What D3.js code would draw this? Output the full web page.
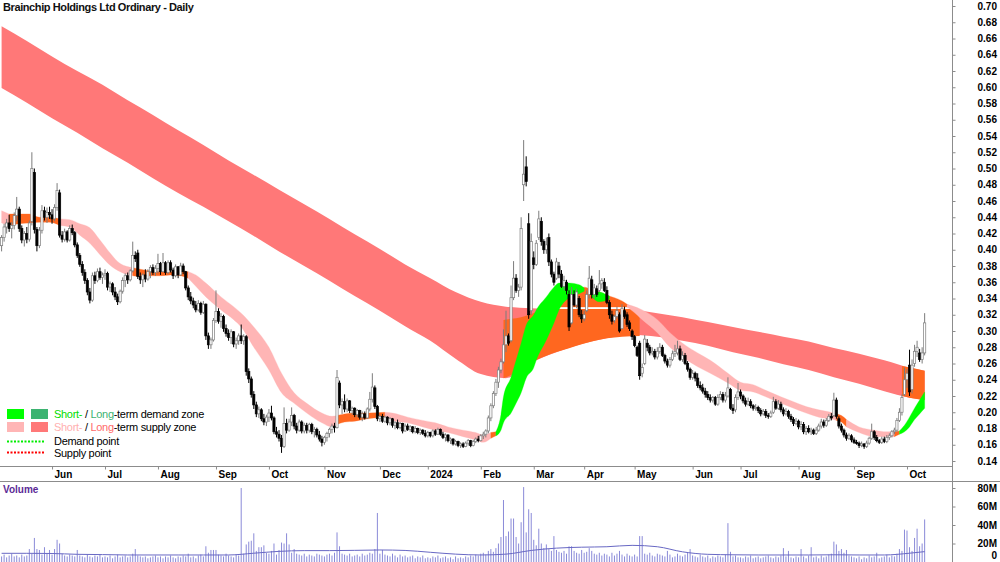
<!DOCTYPE html>
<html>
<head>
<meta charset="utf-8">
<script src="https://cdn.jsdelivr.net/npm/d3@7"></script>
<style>
  html, body { margin: 0; padding: 0; background: #fff; }
  svg { display: block; font-family: Arial, 'Liberation Sans', sans-serif; }
</style>
</head>
<body>
<svg width="1000" height="562"></svg>
<script>
// first trading day shown and ASX holidays (used to build the trading calendar)
const firstDay = new Date(2023, 4, 4)
const holidays = ['2023-06-12', '2023-12-25', '2023-12-26', '2024-01-01', '2024-01-26',
  '2024-03-29', '2024-04-01', '2024-04-25', '2024-06-10']

// daily [open, high, low, close] in cents, one row per trading day
const ohlc = [
  // May 2023
  [40.5,41.8,39.8,41.5],[41.5,43.2,41,42.8],[42.8,43.8,42,43.3],[43.3,44.3,42.2,42.6],[42.6,43.4,41.4,43],[43,44.6,42.5,44.2],[44.2,46.5,43.5,45],[45,45.3,42.2,42.6],[42.6,43,40.8,41.2],[41.2,42.3,40.4,42],[42,42.8,40.8,41.3],[41.3,43.6,41,43.3],[43.5,52,43,50],[49.5,50,42,42.5],[42.5,42.8,39.8,40.5],[40.5,42.8,40.2,42.4],[42.4,45.5,42,44.8],[44.8,45.3,43.6,44],[44,45.2,43.3,44.6],[44.6,45.3,43.8,44.3],
  // Jun
  [44.3,45,43.2,43.8],[43.8,45.6,43.5,45.2],[45.2,48.2,44.8,47.3],[47,47.4,41.5,41.8],[41.8,42.3,40.9,41.3],[41.3,42.6,41,42.2],[42.2,42.4,40.9,41.2],[41.2,43,41,42.6],[42.6,43.1,41.8,42.1],[42.1,42.3,40.3,40.6],[40.6,40.9,39,39.3],[39.3,39.6,37.9,38.2],[38.2,38.6,36.8,37.2],[37.2,37.6,35.8,36.2],[36.2,36.5,34.4,34.8],[34.8,35.3,33.4,33.8],[33.8,37.2,33.6,36.8],[36.8,37.3,35.8,36.2],[36.2,37.7,36,37.3],[37.3,37.8,36.3,36.6],[36.6,37.2,35.8,36.9],
  // Jul
  [36.9,37.6,36.3,37.1],[37.1,37.3,35,35.4],[35.4,36.1,34.8,35.8],[35.8,36,34.4,34.8],[34.8,35.4,33.8,34.2],[34.2,34.6,33.2,33.6],[33.6,35.1,33.4,34.9],[34.9,36.6,34.6,36.2],[36.2,37.1,35.4,36.8],[36.8,37.2,35.8,36.3],[36.3,37.6,36.1,37.4],[37.4,41,37.2,39.3],[39.3,39.8,38.5,38.9],[39.6,40,36.4,36.7],[36.7,37.2,35.8,36.3],[36.3,37.1,35.4,36.9],[36.9,37.6,36,36.4],[36.4,37.6,36.2,37.3],[37.3,38.1,36.5,37.8],[37.8,38.2,36.9,37.2],[37.2,38.1,36.8,37.7],
  // Aug
  [37.7,39.5,37.1,38.3],[38.3,38.5,36.9,37.3],[37.3,39.6,37.2,38.4],[38.4,38.6,36.9,37.2],[37.2,38.7,37,38.4],[38.4,38.7,37.2,37.5],[37.5,37.8,36.4,36.8],[36.8,38.2,36.6,37.9],[37.9,38,36.5,36.9],[36.9,38.4,36.8,38],[38,38.3,37,37.3],[37.3,37.4,35,35.3],[35.3,35.6,33.8,34.2],[34.2,34.8,33.3,33.7],[33.7,34.1,32.8,33.2],[33.2,33.7,32.3,32.6],[32.6,33.8,32.4,33.4],[33.4,33.6,32,32.3],[32.3,33.7,32.1,33.3],[33.3,33.4,28.9,29.4],[29.4,29.8,27.8,28.3],[28.3,29.2,27.8,28.9],[28.9,31.6,28.7,31.3],
  // Sep
  [31.3,35,31,32.4],[32.4,32.8,30.9,31.2],[31.2,32.2,30.4,31.8],[31.8,32,29.9,30.3],[30.3,30.8,29.3,29.7],[29.7,30.2,28.8,29.2],[29.2,30.2,28.4,29.9],[29.9,30,28,28.4],[28.4,29.2,27.8,28.8],[28.8,29.7,28.3,29.4],[29.4,30.8,28.4,28.8],[28.8,29.6,28.3,29.3],[29.3,29.5,24.5,25],[25,25.4,23.6,24.1],[24.1,24.4,21.8,22.2],[22.2,22.6,20.4,20.9],[20.9,21.3,19.4,19.8],[19.8,20.7,19.3,20.3],[20.3,20.5,18.9,19.2],[19.2,19.8,18.4,18.8],[18.8,19.7,18.3,19.4],
  // Oct
  [19.4,20.4,18.8,19.9],[19.9,20.8,19,19.3],[19.3,19.5,17.3,17.6],[17.6,18.2,16.9,17.3],[17.3,17.8,16.4,16.8],[16.8,17.2,15,15.8],[15.8,20.6,15.6,18.6],[18.6,19.2,17.4,17.8],[17.8,19.2,17.6,18.8],[18.8,20.6,18.3,19.6],[19.6,19.8,17.9,18.3],[18.3,18.7,17.4,17.8],[17.8,19.1,17.6,18.8],[18.8,19,17.4,17.7],[17.7,18.7,17.4,18.4],[18.4,18.7,17.4,17.8],[17.8,18.7,17.5,18.5],[18.5,18.7,17.3,17.6],[17.6,18.2,16.9,17.9],[17.9,18.1,16.9,17.2],[17.2,17.7,16.4,16.7],[16.7,17.1,15.8,16.3],
  // Nov
  [16.3,17.1,16,16.9],[16.9,17.6,16.4,17.4],[17.4,18.1,16.9,17.9],[17.9,18.6,17.4,18.3],[18.3,18.7,17.5,18.1],[18.1,25.2,18,24.3],[23.6,23.9,20.5,20.9],[20.9,21.7,19.8,21.3],[21.3,22.2,20,20.4],[20.4,21.7,20,21.4],[21.4,21.5,19.9,20.2],[20.2,20.7,19.7,20.5],[20.5,20.6,19.4,19.7],[19.7,20.4,19.4,20.2],[20.2,20.3,19.1,19.4],[19.4,20.1,18.9,19.8],[19.8,20.1,19.1,19.3],[19.3,20.6,19.2,20.4],[20.4,22.5,20.1,21.6],[21.6,24.8,21.2,23.1],[23,23.3,20.4,20.7],[20.7,20.9,18.9,19.2],
  // Dec
  [19.2,19.7,18.8,19.5],[19.5,19.8,18.7,18.9],[18.9,19.6,18.7,19.4],[19.4,19.5,18.4,18.7],[18.7,19.4,18.4,19.2],[19.2,19.3,18.1,18.4],[18.4,18.9,17.9,18.7],[18.7,19.1,17.9,18.1],[18.1,18.8,17.9,18.6],[18.6,18.7,17.4,17.7],[17.7,18.6,17.6,18.3],[18.3,18.6,17.7,17.9],[17.9,18.4,17.6,18.2],[18.2,18.3,17.4,17.6],[17.6,18.3,17.4,18],[18,18.1,17.3,17.5],[17.5,18,17.2,17.8],[17.8,17.9,17.2,17.4],[17.4,17.8,16.9,17.1],
  // Jan 2024
  [17.1,17.7,16.9,17.5],[17.5,17.6,16.9,17.1],[17.1,17.9,16.9,17.7],[17.7,17.9,17.1,17.3],[17.3,18.1,17.2,17.9],[17.9,18,17.1,17.3],[17.3,17.6,16.7,16.9],[16.9,17.4,16.4,17.2],[17.2,17.3,16.3,16.5],[16.5,16.9,16.1,16.7],[16.7,16.8,15.9,16.1],[16.1,16.6,15.9,16.4],[16.4,16.5,15.7,15.9],[15.9,16.3,15.6,16.1],[16.1,16.3,15.6,15.8],[15.8,16.4,15.7,16.2],[16.2,16.7,15.9,16.5],[16.5,16.6,15.7,15.9],[15.9,16.6,15.8,16.4],[16.4,16.9,16.2,16.7],[16.7,17.1,16.3,16.5],
  // Feb
  [16.5,17.3,16.4,17.1],[17.1,17.6,16.7,17.3],[17.3,17.9,16.9,17.7],[17.7,19.6,17.4,19.3],[19.3,21.1,18.9,20.8],[20.8,22.6,20.5,22.3],[22.3,24.1,22,23.7],[23.7,25.6,23,25.2],[25.2,26.6,24.8,26.2],[26.2,30.2,26,28.3],[28.3,32.5,27.4,29.4],[29.4,29.7,28.2,28.5],[28.8,35.6,28.6,34.1],[34.1,38.6,33.8,36.5],[36.5,37,34.7,35],[35,35.8,34.2,35.4],[35.4,44,35,42.6],[48,53.5,46,49.3],[50.2,51.5,47.8,48.4],[43.2,44.5,31.5,32],[32.5,42,32,41],
  // Mar
  [39,39.8,37.6,38.2],[38.2,41.2,38,40.8],[41.5,44.8,41.2,43.8],[43.5,44,40.5,41],[41,41.3,39.5,40],[40,41.5,39.5,40.6],[41.5,42,38,38.5],[38.5,38.8,36.6,37],[37,37.3,35.6,36],[36.5,39,36.3,38.5],[38,38.5,36.5,37],[37,37.5,35.3,35.5],[35.5,36.8,35,36.2],[36,36.3,34.5,35],[34.5,35,30,30.5],[31,35.4,30.8,34.5],[34.5,35,33,33.2],[33.2,35.2,32.8,34.8],[34,34.3,31.7,32],[32,32.6,31,31.5],
  // Apr
  [31.5,32.5,31.2,32],[32.5,35,32.3,34.5],[34.5,38,34,36.5],[36.3,36.8,34,34.5],[34.5,35.8,34,35.3],[35.2,35.6,34.2,34.5],[35,37.5,34.8,35.8],[35.8,36.5,35.2,36.2],[36,36.5,34.8,35],[35,35.5,33.3,33.5],[33.5,33.8,31.5,32],[32,32.5,30.8,31.2],[31.3,32,31,31.8],[31.8,33,31.5,32.5],[32,32.3,29.8,30],[30.3,33.3,30.2,32.8],[32.5,33,31.5,31.8],[32,32.3,30.5,30.8],[31,31.3,30,30.3],[30,30.2,28.9,29.3],
  // May
  [29.3,29.5,28,28.2],[28,28.2,26.8,27],[28.5,28.8,24,24.5],[24.8,26,24.3,25.5],[26,29.5,25.8,29],[28.5,29,27.5,28],[28,28.3,27,27.3],[27.3,28,27,27.5],[27.5,27.8,26.5,26.8],[26.8,28,26.5,27.5],[27.5,28.5,27.2,28],[28,28.3,26.8,27],[27,27.2,26,26.3],[26.3,26.6,25.5,25.8],[25.8,26.8,25.5,26.5],[26.5,27.6,26.3,27.2],[27.2,28.3,26.8,27.5],[27.3,28.8,27,27.8],[27.8,28.2,26.3,26.5],[26.5,27.5,26.2,27],[27,27.3,25.8,26],[26,26.3,25,25.3],[25.3,25.5,24,24.3],
  // Jun
  [24.3,25.2,24,24.8],[24.8,25,23.8,24.2],[24.2,24.8,23,23.3],[23.3,23.8,22.7,23],[23,23.5,22.3,22.6],[22.6,23,21.8,22.2],[22.2,22.6,21.5,21.8],[21.8,22.2,21.2,21.5],[21.5,22,21.2,21.8],[21.8,22,20.8,21],[21,22.2,20.8,21.8],[21.8,22.6,21.5,22.2],[22.2,22.5,21.2,21.5],[21.5,22.5,21.2,22],[22,24.3,21.8,23],[22.8,23,20.3,20.5],[20.5,21,19.8,20.2],[20.3,22.2,20,21.8],[21.8,23.6,21.5,22.5],
  // Jul
  [22.5,22.8,21.6,22],[22,22.2,21.1,21.4],[21.4,21.8,20.7,21],[21,21.8,20.8,21.3],[21.3,21.6,20.5,20.8],[20.8,21,20.2,20.5],[20.5,21,20.2,20.6],[20.6,20.8,19.9,20.2],[20.2,20.5,19.5,19.8],[19.8,20.4,19.6,20.1],[20.1,20.4,19.3,19.6],[19.6,19.9,19.2,19.5],[19.5,20.2,19.3,19.9],[20,21.9,19.8,21.3],[21.3,21.6,20.3,20.5],[20.5,21.5,20.3,21],[21,21.3,20,20.3],[20.3,20.6,19.5,19.8],[19.8,20.5,19.6,20.1],[20.1,20.3,19.2,19.5],[19.5,19.8,18.8,19.1],[19.1,19.4,18.3,18.6],[18.6,19.3,18.4,18.9],
  // Aug
  [18.9,19.1,17.9,18.2],[18.2,18.9,17.8,18.5],[18.5,18.8,17.3,17.6],[17.6,18.3,17.2,18],[18,18.4,17.4,17.6],[17.6,18.1,17.2,17.8],[17.8,18,17.2,17.4],[17.4,18.2,17.2,17.8],[17.8,18.6,17.6,18.3],[18.3,19.2,18,18.8],[18.8,19.1,18.1,18.4],[18.4,19.3,18.2,19],[19,19.8,18.8,19.5],[19.5,19.9,19,19.3],[19.6,22.4,19.4,21.5],[21.5,21.8,19.2,19.5],[19.2,19.5,18,18.3],[18.3,18.6,17.5,17.8],[17.8,18,16.9,17.2],[17.2,17.5,16.5,16.8],[16.8,17.4,16.6,17.1],[17.1,17.3,16.3,16.6],
  // Sep
  [16.6,16.9,16.1,16.3],[16.3,16.6,16,16.2],[16.2,16.4,15.6,15.9],[15.9,16.4,15.7,16.1],[16.1,16.2,15.5,15.8],[15.8,16.5,15.6,16.2],[16.2,17,16,16.8],[16.8,18.6,16.6,17.6],[17.6,17.8,16.6,16.9],[16.9,17.2,16.3,16.5],[16.5,16.7,16.1,16.3],[16.3,17,16.1,16.7],[16.7,17,16.2,16.4],[16.4,17.2,16.2,16.9],[16.9,17.4,16.6,17.1],[17.1,17.8,16.9,17.6],[17.6,18.1,17.3,17.8],[17.8,19.3,17.6,19],[19,20.5,18.8,20],[20,22.2,19.6,21.8],[22.2,25.5,22,24],
  // Oct
  [24,25.3,23,24.8],[25.8,27.7,22,22.5],[22.8,26.5,22.3,25.8],[26,28.3,25.6,27.5],[27.5,28.8,26.8,28],[27.3,27.8,26.2,26.5],[26.5,28,26,27.3],[27.3,32.2,27,31]
]

// daily volume, millions of shares
const volume = [
  6,8,5,7,9,6,7,5,8,6,7,14,9,26,14,13,8,16,9,13,
  8,14,24,20,9,7,6,8,7,6,13,7,6,5,8,6,5,7,6,8,5,
  6,5,7,4,6,8,5,6,7,5,6,9,14,7,6,5,6,4,5,6,7,
  5,6,4,6,5,7,5,4,6,5,7,6,9,5,6,4,7,8,6,17,10,13,13,
  13,8,7,6,9,7,6,5,8,7,80,9,19,22,23,31,12,16,16,18,10,
  9,12,20,8,13,21,20,31,19,10,14,9,8,7,9,6,8,7,6,9,8,7,
  6,8,9,7,10,32,17,9,8,7,9,6,7,8,6,9,7,8,10,9,14,53,
  9,13,8,7,6,9,7,5,8,6,7,5,6,7,4,6,5,7,4,
  5,4,6,5,7,4,5,6,4,5,3,6,4,5,4,6,5,7,6,8,7,
  9,10,8,12,14,11,15,20,27,67,28,33,47,47,27,20,43,81,32,57,53,
  24,18,36,20,15,19,14,12,28,13,11,10,12,9,17,17,12,10,9,13,
  10,11,15,12,9,8,10,7,9,8,6,10,7,9,12,8,6,9,7,6,
  8,6,28,28,9,8,10,7,6,9,8,7,6,12,8,5,6,9,7,6,8,10,14,
  7,6,5,8,6,5,7,4,6,5,7,6,5,8,42,11,6,7,5,
  5,4,6,5,7,4,5,6,4,5,6,7,5,4,6,5,7,15,6,12,5,4,6,
  5,14,6,4,7,16,5,6,4,7,5,6,8,9,22,19,12,14,10,13,7,6,
  5,4,6,3,5,4,7,5,6,10,4,5,6,8,5,7,6,9,14,12,35,
  34,16,12,26,36,17,20,46
]

// volume moving average, [trading day, millions]
const volumeAvg = [[0,9.4],[10,9.4],[20,9.2],[30,8.3],[40,8.0],[50,7.6],[60,7.6],[70,7.6],[80,7.6],[90,7.6],
  [100,9.5],[110,11.5],[120,12.3],[130,12.3],[140,12.6],[150,13.0],[160,12.5],[170,10.5],[180,8.5],[190,7.6],
  [200,8.5],[210,12.5],[220,15.0],[230,16.0],[240,16.5],[250,18.0],[260,16.5],[270,11.0],[280,8.3],[290,7.8],
  [300,7.6],[310,7.6],[320,7.6],[330,7.8],[340,7.6],[350,7.6],[360,9.5],[366,11.2]]

// long-term zone edges, [trading day, upper, lower] in cents
const longZone = [[0,67.5,59.9],[10,65.7,58.1],[20,63.8,56.2],[30,62.0,54.4],[40,60.3,52.5],[50,58.4,50.7],
  [60,56.6,48.8],[70,54.7,47.0],[80,52.9,45.3],[90,51.0,43.5],[100,49.2,41.7],[110,47.4,39.8],[120,45.6,38.0],
  [130,43.8,36.2],[140,41.9,34.3],[150,40.1,32.5],[160,38.2,30.6],[170,36.5,28.8],[180,34.8,26.6],[190,33.6,24.7],
  [200,33.0,24.2],[210,32.8,26.1],[220,32.7,27.4],[230,32.7,28.4],[240,32.7,29.1],[250,32.6,29.5],[260,32.2,29.3],
  [270,31.7,28.8],[280,31.1,28.2],[290,30.5,27.4],[300,29.9,26.7],[310,29.3,25.9],[320,28.7,25.2],[330,27.9,24.3],
  [340,27.2,23.5],[350,26.4,22.6],[360,25.5,21.8],[366,25.1,21.5]]

// parts of the long-term zone where it turns mixed
const longMixed = [
  [[199,31.35,24.2],[202,31.5,24.6],[206,31.7,25.4],[210,32.1,26.1],[214,32.5,26.7],[218,32.6,27.2],[222,32.7,27.6],[228,32.7,28.2],[234,32.7,28.7],[240,32.7,29.1],[246,32.7,29.3],[253,32.7,29.4]],
  [[357,25.7,22.0],[360,25.5,21.8],[366,25.1,21.5]]
]

// short-term zone pieces, kind + [trading day, upper, lower] in cents
const shortZones = [
  { kind: 'supply', pts: [[0,44.8,43.3],[3,44.4,43.0]] },
  { kind: 'mixed', pts: [[3,44.4,43.0],[7,44.4,43.2],[11,44.4,43.3],[15,44.0,43.4],[19,44.0,43.4],[23,43.8,43.0]] },
  { kind: 'supply', pts: [[23,43.8,43.0],[27,43.7,42.8],[31,43.2,41.8],[35,42.7,40.8],[39,41.2,39.4],[43,39.6,38.1],[47,38.3,37.3],[52,37.8,36.8]] },
  { kind: 'mixed', pts: [[52,37.8,36.8],[55,37.6,36.7],[59,37.4,36.8],[63,37.3,36.8],[67,37.3,36.9],[71,37.3,36.8],[74,37.3,36.5]] },
  { kind: 'supply', pts: [[74,37.3,36.5],[77,36.9,35.5],[81,35.9,34.2],[87,34.2,32.6],[92,33.0,31.4],[95,32.2,30.5],[100,30.5,28.0],[106,28.0,25.2],[111,24.8,22.4],[116,22.4,21.1],[121,21.1,19.9],[127,19.9,18.7],[131,19.5,18.2],[133,19.6,18.5]] },
  { kind: 'mixed', pts: [[133,19.6,18.5],[136,19.8,18.8],[140,19.9,18.9],[145,19.9,19.2],[152,20.0,19.4]] },
  { kind: 'supply', pts: [[152,20.0,19.4],[155,19.9,19.0],[161,19.4,18.7],[167,19.0,18.2],[172,18.7,17.8],[177,18.2,17.5],[183,17.8,17.0],[188,17.5,16.6],[191,17.2,16.3],[194,17.5,16.8]] },
  { kind: 'mixed', pts: [[194,17.5,16.8],[196,17.6,17.1]] },
  { kind: 'mixed', pts: [[219,33.1,32.95],[221,33.7,32.95],[224,34.2,32.95],[227,34.8,32.95],[231,35.4,32.95],[234,35.1,32.95],[237,34.8,32.95],[240,34.4,32.95],[243,34.1,32.95],[246,33.7,32.95],[248,33.3,32.95],[249,33.1,33.0]] },
  { kind: 'demand', pts: [[196,17.6,17.1],[198,19.7,17.8],[199,21.9,18.7],[202,24.3,19.9],[204,26.4,21.1],[206,28.5,22.4],[208,30.7,24.2],[211,32.0,25.5],[212,32.6,26.4],[216,34.2,28.9],[219,35.4,31.0],[221,35.9,32.6],[225,35.9,34.1],[229,35.7,34.6],[231,35.3,34.9]] },
  { kind: 'demand', pts: [[234,34.6,34.2],[237,34.8,33.6],[239,34.6,33.7],[241,34.3,33.9]] },
  { kind: 'supply', pts: [[248,33.3,32.95],[250,33.1,32.5],[254,32.6,31.4],[260,31.4,29.8],[265,29.8,28.0],[270,28.5,26.8],[276,27.3,25.6],[281,26.4,24.8],[288,24.8,23.6],[293,23.7,22.7],[298,23.4,22.5],[303,22.7,21.9],[309,21.9,21.1],[314,21.3,20.5],[319,20.7,19.9],[324,20.3,19.4],[330,19.9,19.1],[331,19.8,19.0]] },
  { kind: 'mixed', pts: [[331,19.8,19.0],[333,19.6,18.8],[335,19.1,18.2]] },
  { kind: 'supply', pts: [[335,19.1,18.2],[340,18.2,17.5],[346,17.8,17.0],[351,17.6,17.0],[354,17.6,17.0]] },
  { kind: 'mixed', pts: [[354,17.6,17.0],[356,17.7,17.3]] },
  { kind: 'demand', pts: [[356,17.7,17.3],[358,18.4,17.6],[360,19.4,18.2],[362,20.5,19.1],[364,21.5,19.8],[366,22.5,20.5]] }
]

const priceTicks = [14,16,18,20,22,24,26,28,30,32,34,36,38,40,42,44,46,48,50,52,54,56,58,60,62,64,66,68,70]
const volumeTicks = [0, 20, 40, 60, 80]

const colors = {
  longSupply: '#ff7878', supply: '#ffb5b5', demand: '#00ff00', mixed: '#ff671f',
  longDemand: '#3cb371', axis: '#8c8c8c', vol: '#8a8ad8', volAvg: '#6868c4'
}

const svg = d3.select('svg')
const step = 2.522

// trading calendar
const fmtDay = d3.timeFormat('%Y-%m-%d')
const days = []
for (let d = new Date(firstDay); days.length < ohlc.length; d.setDate(d.getDate() + 1)) {
  const wd = d.getDay()
  if (wd > 0 && wd < 6 && !holidays.includes(fmtDay(d))) days.push(new Date(d))
}

const x = d3.scaleLinear().domain([0, ohlc.length - 1]).range([1.6, 1.6 + step * (ohlc.length - 1)])
const y = d3.scaleLinear().domain([14, 70]).range([461, 6])
const yv = d3.scaleLinear().domain([0, 80]).range([562, 488])

svg.append('defs').append('clipPath').attr('id', 'plot').
  append('rect').attr('x', 0).attr('y', 0).attr('width', 952).attr('height', 466)

const g = svg.append('g').attr('clip-path', 'url(#plot)')

const band = d3.area().
  x(d => x(d[0])).
  y0(d => y(d[2])).
  y1(d => y(d[1])).
  curve(d3.curveMonotoneX)

g.append('path').attr('d', band(longZone)).attr('fill', colors.longSupply)
g.selectAll('path.lm').data(longMixed).enter().append('path').
  attr('d', band).attr('fill', colors.mixed)

const ordered = shortZones.filter(z => z.kind !== 'demand').concat(shortZones.filter(z => z.kind === 'demand'))
g.selectAll('path.sz').data(ordered).enter().append('path').
  attr('d', z => band(z.pts)).
  attr('fill', z => colors[z.kind]).
  attr('stroke', z => colors[z.kind]).
  attr('stroke-width', 0.3)

// candles
const up = d => d[3] >= d[0]
const candle = g.selectAll('g.candle').data(ohlc).enter().append('g')
candle.append('line').
  attr('x1', (d, i) => x(i)).attr('x2', (d, i) => x(i)).
  attr('y1', d => y(d[1])).attr('y2', d => y(d[2])).
  attr('stroke', d => up(d) ? '#7c7c7c' : '#000').attr('stroke-width', 1)
candle.append('rect').
  attr('x', (d, i) => x(i) - 1.1).attr('width', 2.2).
  attr('y', d => y(Math.max(d[0], d[3]))).
  attr('height', d => Math.max(1, Math.abs(y(d[0]) - y(d[3])))).
  attr('fill', d => up(d) ? '#fff' : '#000').
  attr('stroke', d => up(d) ? '#7c7c7c' : '#000').attr('stroke-width', 0.7)

// frame lines
svg.append('line').attr('x1', 0).attr('x2', 952).attr('y1', 466.5).attr('y2', 466.5).attr('stroke', colors.axis)
svg.append('line').attr('x1', 0).attr('x2', 1000).attr('y1', 481.5).attr('y2', 481.5).attr('stroke', colors.axis)
svg.append('line').attr('x1', 952.5).attr('x2', 952.5).attr('y1', 0).attr('y2', 562).attr('stroke', colors.axis)

// price axis
const ya = svg.append('g').attr('transform', 'translate(952.5,0)').
  call(d3.axisRight(y).tickValues(priceTicks).tickSize(3).tickFormat(d => (d / 100).toFixed(2)))
ya.select('.domain').remove()
ya.selectAll('line').attr('stroke', colors.axis)
ya.selectAll('text').attr('x', 44.5).attr('text-anchor', 'end')
ya.attr('font-family', 'Arial, Liberation Sans, sans-serif').attr('font-size', 10).attr('font-weight', 'bold')

// month axis
const monthIdx = days.map((d, i) => i).filter(i => i > 0 && days[i].getMonth() !== days[i - 1].getMonth())
const xa = svg.append('g').attr('transform', 'translate(0,466.5)').
  call(d3.axisBottom(x).tickValues(monthIdx).tickSize(3).
    tickFormat(i => days[i].getMonth() === 0 ? d3.timeFormat('%Y')(days[i]) : d3.timeFormat('%b')(days[i])))
xa.select('.domain').remove()
xa.selectAll('line').attr('stroke', colors.axis)
xa.selectAll('text').attr('text-anchor', 'start').attr('x', 2).attr('y', 11.5).attr('dy', 0)
xa.attr('font-family', 'Arial, Liberation Sans, sans-serif').attr('font-size', 10).attr('font-weight', 'bold')

// volume
const vg = svg.append('g')
vg.selectAll('line').data(volume).enter().append('line').
  attr('x1', (d, i) => x(i)).attr('x2', (d, i) => x(i)).
  attr('y1', yv(0)).attr('y2', d => yv(d)).
  attr('stroke', colors.vol).attr('stroke-width', 1)
vg.append('path').
  attr('d', d3.line().x(d => x(d[0])).y(d => yv(d[1])).curve(d3.curveMonotoneX)(volumeAvg)).
  attr('fill', 'none').attr('stroke', colors.volAvg).attr('stroke-width', 1)

const va = svg.append('g').attr('transform', 'translate(952.5,0)').
  call(d3.axisRight(yv).tickValues(volumeTicks).tickSize(3).tickFormat(d => d ? d + 'M' : '0'))
va.select('.domain').remove()
va.selectAll('line').attr('stroke', colors.axis)
va.selectAll('text').attr('x', 44.5).attr('text-anchor', 'end')
// keep the bottom "0" inside the picture
va.selectAll('text').filter(d => d === 0).attr('dy', '-0.4em')
va.attr('font-family', 'Arial, Liberation Sans, sans-serif').attr('font-size', 10).attr('font-weight', 'bold')

svg.append('text').attr('x', 3).attr('y', 493).text('Volume').
  attr('font-size', 10).attr('font-weight', 'bold').attr('fill', '#5b2a96')

// title
svg.append('text').attr('x', 3).attr('y', 11).text('Brainchip Holdings Ltd Ordinary - Daily').
  attr('font-size', 11).attr('font-weight', 'bold').attr('letter-spacing', -0.4).attr('fill', '#111')

// legend
const legend = svg.append('g').attr('font-size', 11).attr('letter-spacing', -0.3)
const swatches = [
  { x: 7, y: 409, c: colors.demand }, { x: 31, y: 409, c: colors.longDemand },
  { x: 7, y: 422, c: colors.supply }, { x: 31, y: 422, c: colors.longSupply }
]
legend.selectAll('rect').data(swatches).enter().append('rect').
  attr('x', d => d.x).attr('y', d => d.y).attr('width', 17).attr('height', 10).attr('fill', d => d.c)

const rows = [
  { y: 418, parts: [['Short-', '#00dd00'], [' / ', '#000'], ['Long', colors.longDemand], ['-term demand zone', '#000']] },
  { y: 431, parts: [['Short-', '#ffb0b0'], [' / ', '#000'], ['Long', '#ff6a6a'], ['-term supply zone', '#000']] },
  { y: 445, parts: [['Demand point', '#000']] },
  { y: 456.5, parts: [['Supply point', '#000']] }
]
rows.forEach(r => {
  const t = legend.append('text').attr('x', 54).attr('y', r.y)
  r.parts.forEach(p => t.append('tspan').text(p[0]).attr('fill', p[1]))
})
legend.append('line').attr('x1', 7).attr('x2', 44).attr('y1', 441.5).attr('y2', 441.5).
  attr('stroke', '#00ee00').attr('stroke-width', 2).attr('stroke-dasharray', '2,1.5')
legend.append('line').attr('x1', 7).attr('x2', 44).attr('y1', 452.5).attr('y2', 452.5).
  attr('stroke', '#ff0000').attr('stroke-width', 2).attr('stroke-dasharray', '2,1.5')
</script>
</body>
</html>
